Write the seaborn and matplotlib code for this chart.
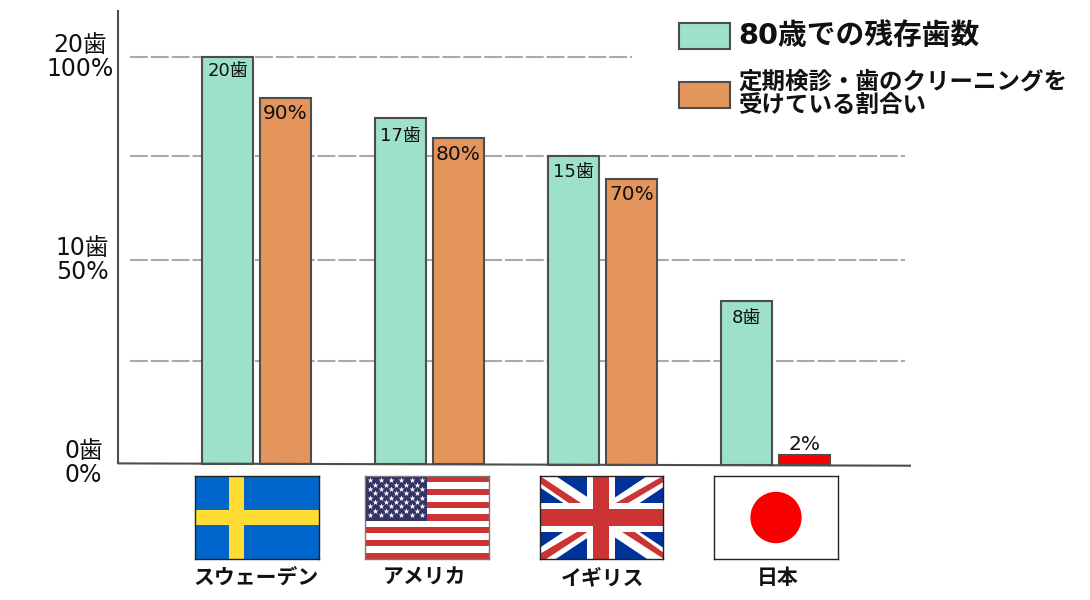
# 80歳での残存歯数と定期検診の割合 - 国別比較
import matplotlib
matplotlib.use('Agg')
import matplotlib.pyplot as plt
from matplotlib.patches import Circle, Polygon, Rectangle
import pandas as pd
import seaborn as sns

# Data
countries = ['スウェーデン', 'アメリカ', 'イギリス', '日本']
SERIES_TEETH = '80歳での残存歯数'
SERIES_CHECKUP = '定期検診・歯のクリーニングを\n受けている割合い'
teeth_height = [100, 85, 75.5, 40]      # bar height on the percent scale
checkup_rate = [90, 80, 70, 2]
teeth_labels = ['20歯', '17歯', '15歯', '8歯']
checkup_labels = ['90%', '80%', '70%', '2%']
y_labels = ['0歯\n0%', '10歯\n50%', '20歯\n100%']
y_label_values = [0, 50, 100]
grid_values = [25, 50, 75.5, 100]

W, H = 1090, 600
GREEN = '#9de0cb'
ORANGE = '#e4955c'
RED = '#f80000'
EDGE = '#4d4d4d'
FONTS = ['DejaVu Sans', 'Noto Sans CJK JP']

sns.set_theme(style='white')
plt.rcParams['font.family'] = FONTS


def px_axes(x0, y0, x1, y1, **kwargs):
    """Axes placed by pixel box of the picture (y going down)."""
    return fig.add_axes([x0 / W, 1 - y1 / H, (x1 - x0) / W, (y1 - y0) / H], **kwargs)


df = pd.DataFrame({
    'country': countries * 2,
    'series': [SERIES_TEETH] * 4 + [SERIES_CHECKUP] * 4,
    'value': teeth_height + checkup_rate,
})

fig = plt.figure(figsize=(W / 100, H / 100), dpi=100)
ax = px_axes(118, 11, 911, 463)
sns.barplot(df, x='country', y='value', hue='series', palette=[GREEN, ORANGE],
            width=0.67, gap=0.12, saturation=1, edgecolor=EDGE, linewidth=1.5,
            zorder=3, ax=ax)
ax.set_xlim(-0.8006, 3.783)
ax.set_ylim(0, 111.3)
ax.set(xlabel=None, ylabel=None, xticks=[], yticks=[])
sns.despine(ax=ax, bottom=True)
ax.spines['left'].set_color(EDGE)
ax.spines['left'].set_linewidth(1.5)

# Slightly tilted base line, as in the original
BASE_LEFT, BASE_RIGHT = 0.4, 2.7
ax.plot([0, 1], [-BASE_LEFT / 452, -BASE_RIGHT / 452], transform=ax.transAxes,
        color=EDGE, lw=1.5, clip_on=False, zorder=4, solid_capstyle='butt')
for container in ax.containers:
    for bar in container:
        center = bar.get_x() + bar.get_width() / 2
        frac = (center + 0.8006) / (3.783 + 0.8006)
        drop = (BASE_LEFT + (BASE_RIGHT - BASE_LEFT) * frac) * 111.3 / 452
        bar.set_y(-drop)
        bar.set_height(bar.get_height() + drop)
        bar.set_clip_on(False)
ax.containers[1][3].set_facecolor(RED)

# Grid
for value in grid_values:
    right = 0.648 if value == 100 else 0.992
    ax.axhline(value, xmin=0.015, xmax=right, color='#aaaaaa', lw=1.5,
               ls=(0, (8.6, 1.4)), dash_capstyle='butt', zorder=1)

# Y labels
y_label_right = [103, 109, 114]
for value, label, right in zip(y_label_values, y_labels, y_label_right):
    ax.annotate(label, (0, value), xycoords=ax.get_yaxis_transform(),
                xytext=((right - 118) * 0.72, 0), textcoords='offset points',
                ha='right', va='center', ma='center', fontsize=17,
                linespacing=1.0, color='#111111', annotation_clip=False)

# Bar labels
teeth_offset = [-10, -13, -11, -12.5]
checkup_offset = [-11.5, -12, -11, 7.5]
for bar, label, value, off in zip(ax.containers[0], teeth_labels, teeth_height, teeth_offset):
    ax.annotate(label, (bar.get_x() + bar.get_width() / 2, value), xytext=(0, off),
                textcoords='offset points', ha='center', va='center', fontsize=13,
                color='#111111', zorder=5)
for bar, label, value, off in zip(ax.containers[1], checkup_labels, checkup_rate, checkup_offset):
    ax.annotate(label, (bar.get_x() + bar.get_width() / 2, value), xytext=(0, off),
                textcoords='offset points', ha='center', va='center', fontsize=14.5,
                color='#111111', zorder=5)

# Legend
handles, labels = ax.get_legend_handles_labels()
legend = ax.legend(handles, labels, loc='upper left', bbox_to_anchor=(660 / W, 1 - 3 / H),
                   bbox_transform=fig.transFigure, frameon=False, fontsize=16.9,
                   handlelength=2.17, handleheight=1.325, handletextpad=0.37,
                   labelspacing=0.87, borderpad=0.3)
for text in legend.get_texts():
    text.set_fontweight('bold')
    text.set_linespacing(1.1)
    text.set_color('#111111')
legend.get_texts()[0].set_fontsize(20.7)
for handle in legend.get_patches():
    handle.set_linewidth(1.5)
    handle.set_edgecolor(EDGE)


# Flags
def new_flag(x0, x1, border='#222222'):
    flag = px_axes(x0, 476, x1, 559)
    flag.set_xlim(0, 60)
    flag.set_ylim(0, 40)
    flag.set_xticks([])
    flag.set_yticks([])
    for spine in flag.spines.values():
        spine.set_visible(True)
        spine.set_color(border)
        spine.set_linewidth(1)
    return flag


def draw_sweden(x0, x1):
    flag = new_flag(x0, x1)
    flag.set_facecolor('#0066cc')
    flag.add_patch(Rectangle((16.5, 0), 7.2, 40, color='#ffdd33', lw=0))
    flag.add_patch(Rectangle((0, 16.3), 60, 7.2, color='#ffdd33', lw=0))


def draw_usa(x0, x1):
    flag = new_flag(x0, x1, border='#777777')
    stripe = 40 / 13
    flag.set_facecolor('white')
    for i in range(0, 13, 2):
        flag.add_patch(Rectangle((0, i * stripe), 60, stripe, color='#cc3333', lw=0))
    flag.add_patch(Rectangle((0, 6 * stripe), 30, 7 * stripe, color='#333366', lw=0, zorder=2))
    xs, ys = [], []
    for row in range(9):
        for col in range(6 if row % 2 == 0 else 5):
            xs.append(2.5 + col * 5 + (2.5 if row % 2 else 0))
            ys.append(38 - row * 2.1)
    flag.scatter(xs, ys, marker='*', s=20, color='white', lw=0, zorder=3)


def draw_uk(x0, x1):
    flag = new_flag(x0, x1)
    flag.set_facecolor('#003399')
    white_bands = [[(0, 34.5), (0, 40), (7.7, 40), (60, 5.5), (60, 0), (52.3, 0)],
                   [(0, 5.5), (0, 0), (7.7, 0), (60, 34.5), (60, 40), (52.3, 40)]]
    for band in white_bands:
        flag.add_patch(Polygon(band, color='white', lw=0))
    red_bands = [[(0, 40), (20, 27), (14, 27), (0, 36.5)],
                 [(37, 27), (43, 27), (60, 37), (60, 40)],
                 [(0, 2.5), (18, 13), (23.1, 13), (3, 0), (0, 0)],
                 [(40, 13), (46.3, 13), (60, 3.2), (60, 0.3)]]
    for band in red_bands:
        flag.add_patch(Polygon(band, color='#cc3333', lw=0))
    flag.add_patch(Rectangle((23.1, 0), 13.5, 40, color='white', lw=0))
    flag.add_patch(Rectangle((0, 13), 60, 13.8, color='white', lw=0))
    flag.add_patch(Rectangle((25.7, 0), 8.1, 40, color='#cc3333', lw=0))
    flag.add_patch(Rectangle((0, 15.8), 60, 8.1, color='#cc3333', lw=0))


def draw_japan(x0, x1):
    flag = new_flag(x0, x1)
    flag.set_facecolor('white')
    flag.add_patch(Circle((30, 20), 12.4, color='#f80000', lw=0))


draw_sweden(195, 319)
draw_usa(365, 489)
draw_uk(540, 663)
draw_japan(714, 838)

# Country names under the flags
name_centers = [256, 424, 602, 778]
for name, x in zip(countries, name_centers):
    fig.text(x / W, 1 - 584 / H, name, ha='center', va='baseline', fontsize=15,
             fontweight='bold', color='#111111')

plt.savefig('out.png', dpi=100)
